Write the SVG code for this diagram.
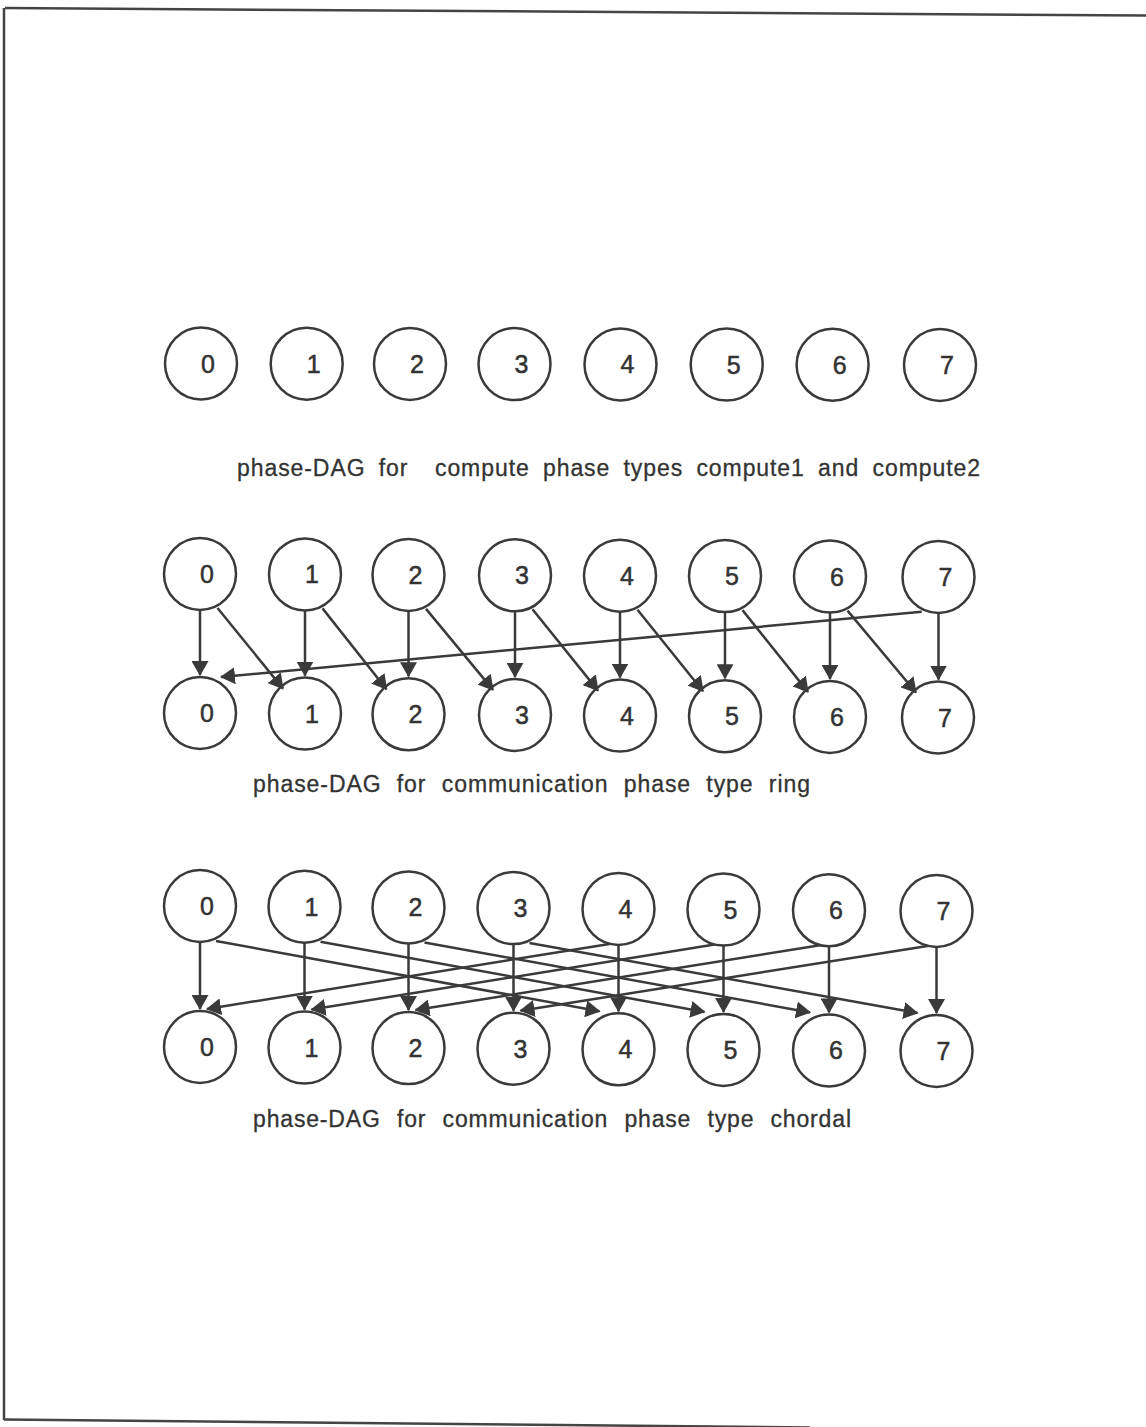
<svg xmlns="http://www.w3.org/2000/svg" width="1146" height="1427" viewBox="0 0 1146 1427">
<style>
.node circle{fill:none;stroke:#3a3a3a;stroke-width:2.5}
.node text{font-family:"Liberation Sans",Arial,sans-serif;font-size:25px;fill:#333;stroke:#333;stroke-width:0.5;text-anchor:middle}
.cap{font-family:"Liberation Sans",Arial,sans-serif;font-size:23px;fill:#333;stroke:#333;stroke-width:0.3}
#edges line{stroke:#3a3a3a;stroke-width:2.5;marker-end:url(#ah)}
.border{stroke:#444;stroke-width:2.5;fill:none}
</style>
<defs>
<marker id="ah" markerUnits="userSpaceOnUse" markerWidth="17" markerHeight="17" refX="14" refY="8.5" orient="auto">
<path d="M0,0 L15,8.5 L0,17 z" fill="#3a3a3a"/>
</marker>
</defs>
<rect width="1146" height="1427" fill="#fff"/>
<g id="page-border">
<line class="border" x1="5" y1="8" x2="1146" y2="15.5"/>
<line class="border" x1="4" y1="8" x2="4" y2="1420"/>
<line class="border" x1="4" y1="1419.5" x2="810" y2="1427.5"/>
</g>

<g id="compute">
<g id="c0" class="node"><circle cx="201" cy="363.5" r="36"/><text x="208" y="372.5">0</text></g>
<g id="c1" class="node"><circle cx="306.7" cy="363.7" r="36"/><text x="313.7" y="372.7">1</text></g>
<g id="c2" class="node"><circle cx="410" cy="363.9" r="36"/><text x="417" y="372.9">2</text></g>
<g id="c3" class="node"><circle cx="514.5" cy="364.1" r="36"/><text x="521.5" y="373.1">3</text></g>
<g id="c4" class="node"><circle cx="620.5" cy="364.4" r="36"/><text x="627.5" y="373.4">4</text></g>
<g id="c5" class="node"><circle cx="726.7" cy="364.6" r="36"/><text x="733.7" y="373.6">5</text></g>
<g id="c6" class="node"><circle cx="832.6" cy="364.8" r="36"/><text x="839.6" y="373.8">6</text></g>
<g id="c7" class="node"><circle cx="940" cy="365" r="36"/><text x="947" y="374">7</text></g>
<text class="cap" x="237" y="476" word-spacing="6" textLength="743" lengthAdjust="spacing" xml:space="preserve">phase-DAG for  compute phase types compute1 and compute2</text>
</g>

<g id="ring">
<g id="rt0" class="node"><circle cx="200" cy="574" r="36"/><text x="207" y="583">0</text></g>
<g id="rt1" class="node"><circle cx="305" cy="574.4" r="36"/><text x="312" y="583.4">1</text></g>
<g id="rt2" class="node"><circle cx="408.5" cy="574.9" r="36"/><text x="415.5" y="583.9">2</text></g>
<g id="rt3" class="node"><circle cx="515" cy="575.3" r="36"/><text x="522" y="584.3">3</text></g>
<g id="rt4" class="node"><circle cx="620" cy="575.7" r="36"/><text x="627" y="584.7">4</text></g>
<g id="rt5" class="node"><circle cx="725" cy="576.1" r="36"/><text x="732" y="585.1">5</text></g>
<g id="rt6" class="node"><circle cx="830" cy="576.6" r="36"/><text x="837" y="585.6">6</text></g>
<g id="rt7" class="node"><circle cx="938.5" cy="577" r="36"/><text x="945.5" y="586">7</text></g>
<g id="rb0" class="node"><circle cx="200" cy="713" r="36"/><text x="207" y="722">0</text></g>
<g id="rb1" class="node"><circle cx="305" cy="713.6" r="36"/><text x="312" y="722.6">1</text></g>
<g id="rb2" class="node"><circle cx="408.5" cy="714.3" r="36"/><text x="415.5" y="723.3">2</text></g>
<g id="rb3" class="node"><circle cx="515" cy="714.9" r="36"/><text x="522" y="723.9">3</text></g>
<g id="rb4" class="node"><circle cx="620" cy="715.6" r="36"/><text x="627" y="724.6">4</text></g>
<g id="rb5" class="node"><circle cx="725" cy="716.2" r="36"/><text x="732" y="725.2">5</text></g>
<g id="rb6" class="node"><circle cx="830" cy="716.9" r="36"/><text x="837" y="725.9">6</text></g>
<g id="rb7" class="node"><circle cx="938" cy="717.5" r="36"/><text x="945" y="726.5">7</text></g>
<text class="cap" x="253" y="792" word-spacing="8" textLength="557" lengthAdjust="spacing">phase-DAG for communication phase type ring</text>
</g>

<g id="chordal">
<g id="ct0" class="node"><circle cx="200" cy="906" r="36"/><text x="207" y="915">0</text></g>
<g id="ct1" class="node"><circle cx="304.5" cy="906.7" r="36"/><text x="311.5" y="915.7">1</text></g>
<g id="ct2" class="node"><circle cx="408.5" cy="907.4" r="36"/><text x="415.5" y="916.4">2</text></g>
<g id="ct3" class="node"><circle cx="513.5" cy="908.1" r="36"/><text x="520.5" y="917.1">3</text></g>
<g id="ct4" class="node"><circle cx="618.5" cy="908.9" r="36"/><text x="625.5" y="917.9">4</text></g>
<g id="ct5" class="node"><circle cx="723.5" cy="909.6" r="36"/><text x="730.5" y="918.6">5</text></g>
<g id="ct6" class="node"><circle cx="829" cy="910.3" r="36"/><text x="836" y="919.3">6</text></g>
<g id="ct7" class="node"><circle cx="936.5" cy="911" r="36"/><text x="943.5" y="920">7</text></g>
<g id="cb0" class="node"><circle cx="200" cy="1047" r="36"/><text x="207" y="1056">0</text></g>
<g id="cb1" class="node"><circle cx="304.5" cy="1047.6" r="36"/><text x="311.5" y="1056.6">1</text></g>
<g id="cb2" class="node"><circle cx="408.5" cy="1048.1" r="36"/><text x="415.5" y="1057.1">2</text></g>
<g id="cb3" class="node"><circle cx="513.5" cy="1048.7" r="36"/><text x="520.5" y="1057.7">3</text></g>
<g id="cb4" class="node"><circle cx="618.5" cy="1049.3" r="36"/><text x="625.5" y="1058.3">4</text></g>
<g id="cb5" class="node"><circle cx="723.5" cy="1049.9" r="36"/><text x="730.5" y="1058.9">5</text></g>
<g id="cb6" class="node"><circle cx="829" cy="1050.4" r="36"/><text x="836" y="1059.4">6</text></g>
<g id="cb7" class="node"><circle cx="936.5" cy="1051" r="36"/><text x="943.5" y="1060">7</text></g>
<text class="cap" x="253" y="1127" word-spacing="9" textLength="598" lengthAdjust="spacing">phase-DAG for communication phase type chordal</text>
</g>

<g id="edges">
<line x1="200" y1="610" x2="200" y2="675"/>
<line x1="305" y1="610.4" x2="305" y2="675.6"/>
<line x1="408.5" y1="610.9" x2="408.5" y2="676.3"/>
<line x1="515" y1="611.3" x2="515" y2="676.9"/>
<line x1="620" y1="611.7" x2="620" y2="677.6"/>
<line x1="725" y1="612.1" x2="725" y2="678.2"/>
<line x1="830" y1="612.6" x2="830" y2="678.9"/>
<line x1="938.5" y1="613" x2="938.5" y2="679.5"/>
<line x1="217.5" y1="608" x2="283" y2="688.6"/>
<line x1="322.5" y1="608.4" x2="386.5" y2="689.3"/>
<line x1="426" y1="608.9" x2="493" y2="689.9"/>
<line x1="532.5" y1="609.3" x2="598" y2="690.6"/>
<line x1="637.5" y1="609.7" x2="703" y2="691.2"/>
<line x1="742.5" y1="610.1" x2="808" y2="691.9"/>
<line x1="847.5" y1="610.6" x2="916" y2="692.5"/>
<line x1="921.7" y1="611.7" x2="221" y2="677"/>

<line x1="200" y1="942" x2="200" y2="1009"/>
<line x1="304.5" y1="942.7" x2="304.5" y2="1009.6"/>
<line x1="408.5" y1="943.4" x2="408.5" y2="1010.1"/>
<line x1="513.5" y1="944.1" x2="513.5" y2="1010.7"/>
<line x1="618.5" y1="944.9" x2="618.5" y2="1011.3"/>
<line x1="723.5" y1="945.6" x2="723.5" y2="1011.9"/>
<line x1="829" y1="946.3" x2="829" y2="1012.4"/>
<line x1="936.5" y1="947" x2="936.5" y2="1013"/>
<line x1="216" y1="941" x2="599.5" y2="1011.3"/>
<line x1="320.5" y1="941.7" x2="704.5" y2="1011.9"/>
<line x1="424.5" y1="942.4" x2="810" y2="1012.4"/>
<line x1="529.5" y1="943.1" x2="917.5" y2="1013"/>
<line x1="609.5" y1="943.9" x2="207" y2="1009"/>
<line x1="714.5" y1="944.6" x2="311.5" y2="1009.6"/>
<line x1="820" y1="945.3" x2="415.5" y2="1010.1"/>
<line x1="927.5" y1="946" x2="520.5" y2="1010.7"/>
</g>
</svg>
